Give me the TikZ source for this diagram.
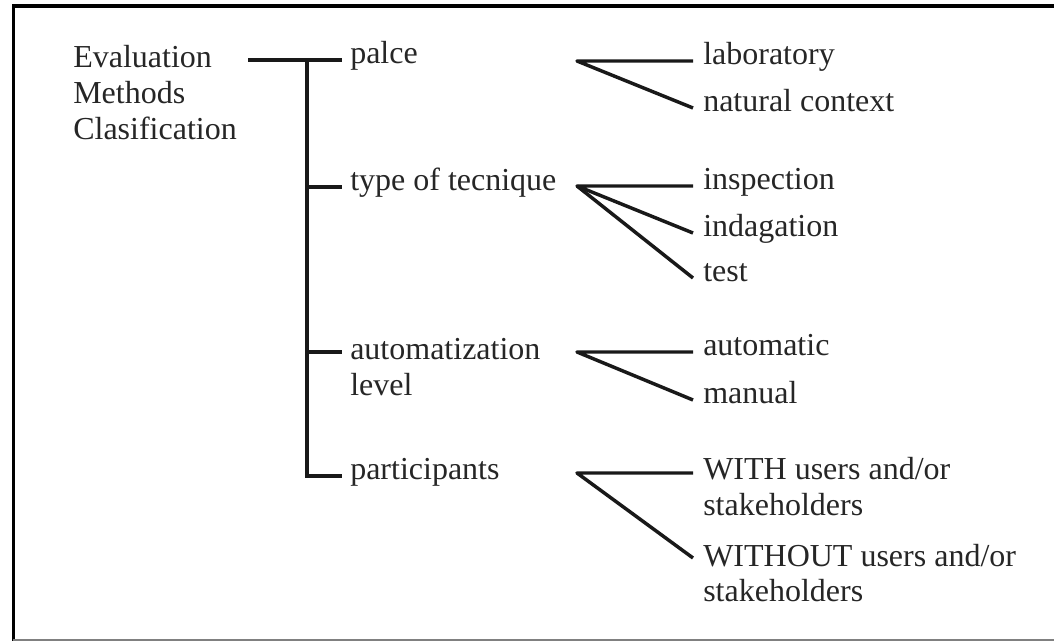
\documentclass[tikz,border=0pt]{standalone}
\usepackage{fontspec}
\setmainfont{Liberation Serif}
\usetikzlibrary{calc}
\begin{document}
\begin{tikzpicture}[x=0.75pt,y=-0.75pt,
  lbl/.style={inner sep=0pt, anchor=west, text height=0.46em, text depth=0pt, font=\fontsize{24}{27}\selectfont, text=black!85},
  mlbl/.style={inner sep=0pt, anchor=base west, align=left, font=\fontsize{24}{27}\selectfont, text=black!85},
  conn/.style={line width=2.6pt, black!90, line cap=butt, line join=miter},
  fan/.style={line width=2.6pt, black!90, line cap=butt, line join=round}]
\useasboundingbox (0,0) rectangle (1054,641);
% frame
\draw[line width=2.5pt] (13.5,641) -- (13.5,6) -- (1054,6);
\draw[line width=0.8pt, gray] (13,640) -- (1054,640);
% nodes (multi-line nodes: base anchor is the last line's baseline)
\node[mlbl] (root) at (73,140) {Evaluation\\Methods\\Clasification};
\node[lbl] (palce) at (350,60) {palce};
\node[lbl] (type) at (350,187) {type of tecnique};
\node[mlbl] (auto) at (350,396) {automatization\\level};
\node[lbl] (part) at (350,476) {participants};
\node[lbl] (lab) at (703,61) {laboratory};
\node[lbl] (nat) at (703,108) {natural context};
\node[lbl] (insp) at (703,186) {inspection};
\node[lbl] (inda) at (703,233) {indagation};
\node[lbl] (test) at (703,278) {test};
\node[lbl] (autom) at (703,352) {automatic};
\node[lbl] (man) at (703,400) {manual};
\node[mlbl] (with) at (703,516) {WITH users and/or\\stakeholders};
\node[mlbl] (without) at (703,602) {WITHOUT users and/or\\stakeholders};
% tree connectors
\coordinate (r0) at (248,60);
\coordinate (j0) at (307,60);
\coordinate (j3) at (307,476);
\coordinate (ja) at ($(auto.base west)+(-8,-44)$);
\draw[conn] (r0) -- (j0) -- ($(palce.west)+(-8,0)$);
\draw[conn] (j0) -- (j3) -- ($(part.west)+(-8,0)$);
\draw[conn] (j0 |- type.west) -- ($(type.west)+(-8,0)$);
\draw[conn] (j0 |- ja) -- (ja);
% fans
\coordinate (fa) at (577,61);
\coordinate (fb) at (577,186);
\coordinate (fc) at (577,352);
\coordinate (fd) at (577,473);
\draw[fan] ($(lab.west)+(-10,0)$) -- (fa) -- ($(nat.west)+(-10,0)$);
\draw[fan] ($(insp.west)+(-10,0)$) -- (fb) -- ($(inda.west)+(-10,0)$);
\draw[fan] (fb) -- ($(test.west)+(-10,0)$);
\draw[fan] ($(autom.west)+(-10,0)$) -- (fc) -- ($(man.west)+(-10,0)$);
\draw[fan] ($(with.base west)+(-10,-43)$) -- (fd) -- ($(without.base west)+(-10,-44)$);
\end{tikzpicture}
\end{document}
